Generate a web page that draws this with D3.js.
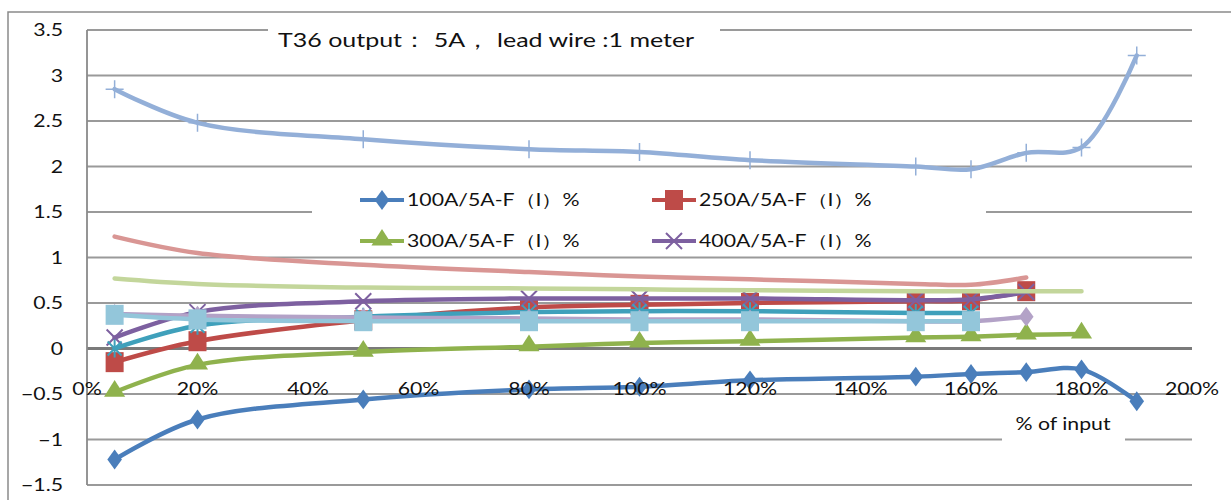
<!DOCTYPE html>
<html>
<head>
<meta charset="utf-8">
<script src="https://cdn.jsdelivr.net/npm/d3@7"></script>
<style>
  body { margin: 0; background: #fff; }
  text { font-family: Lato, "Open Sans", sans-serif; fill: #111; }
</style>
</head>
<body>
<div id="chart"></div>
<script>
// x positions (% of input)
const xPct = [5, 20, 50, 80, 100, 120, 150, 160, 170, 180, 190];
const xTicks = [0, 20, 40, 60, 80, 100, 120, 140, 160, 180, 200];
const yTicks = [-1.5, -1, -0.5, 0, 0.5, 1, 1.5, 2, 2.5, 3, 3.5];

// series values
const s100 = [-1.22, -0.78, -0.56, -0.45, -0.42, -0.35, -0.31, -0.28, -0.26, -0.23, -0.58];
const s250 = [-0.15, 0.08, 0.31, 0.45, 0.48, 0.5, 0.52, 0.53, 0.63];
const s300 = [-0.48, -0.18, -0.04, 0.02, 0.06, 0.08, 0.12, 0.13, 0.15, 0.16];
const s400 = [0.12, 0.4, 0.52, 0.55, 0.55, 0.55, 0.53, 0.54, 0.62];
const sAqua = [0.0, 0.25, 0.35, 0.4, 0.41, 0.41, 0.39, 0.39];
const sPlus = [2.85, 2.48, 2.3, 2.19, 2.16, 2.07, 2.0, 1.97, 2.15, 2.21, 3.22];
const sLightRed = [1.23, 1.05, 0.92, 0.84, 0.79, 0.76, 0.71, 0.7, 0.78];
const sLightGreen = [0.77, 0.71, 0.67, 0.66, 0.65, 0.64, 0.63, 0.63, 0.63, 0.63];
const sLightPurple = [0.38, 0.36, 0.34, 0.33, 0.32, 0.32, 0.3, 0.3, 0.35];
const sLightAqua = [0.37, 0.32, 0.3, 0.3, 0.3, 0.3, 0.3, 0.3];

const legendNames = ["100A/5A-F（I）%", "250A/5A-F（I）%", "300A/5A-F（I）%", "400A/5A-F（I）%"];
const titleText = "T36 output： 5A， lead wire :1 meter";

// drawing order: later ones on top
const series = [
    { vals: s100, color: "#4a7ebb", marker: "diamond" },
    { vals: s250, color: "#be4b48", marker: "square" },
    { vals: s300, color: "#8fb24d", marker: "triangle" },
    { vals: s400, color: "#7d60a0", marker: "x" },
    { vals: sAqua, color: "#3fa0bb", marker: "star" },
    { vals: sPlus, color: "#93afd8", marker: "plus" },
    { vals: sLightRed, color: "#d99694", marker: "none" },
    { vals: sLightGreen, color: "#c3d69b", marker: "none" },
    { vals: sLightPurple, color: "#b3a2c7", marker: "diamond" },
    { vals: sLightAqua, color: "#93c6da", marker: "square" }
];

const W = 1231, H = 500;
const SX = 1.25; // horizontal stretch of the text, as in the picture

const svg = d3.select("#chart").append("svg")
    .attr("width", W).attr("height", H);

const x = d3.scaleLinear().domain([0, 200]).range([87, 1192]);
const y = d3.scaleLinear().domain([-1.5, 3.5]).range([485, 30]);

function stext(g, str, px, py, size, anchor) {
    return g.append("text")
        .attr("transform", "translate(" + px + "," + py + ") scale(" + SX + ",1)")
        .attr("text-anchor", anchor || "start")
        .attr("font-size", size)
        .text(str);
}

// outer chart border
svg.append("path")
    .attr("d", "M8," + H + "V12H" + W)
    .attr("fill", "none").attr("stroke", "#8a8a8a").attr("stroke-width", 1.5);

// gridlines
svg.append("g").selectAll("line")
    .data(yTicks)
    .enter().append("line")
        .attr("x1", x(0)).attr("x2", x(200))
        .attr("y1", d => y(d)).attr("y2", d => y(d))
        .attr("stroke", d => d === 0 ? "#7a7a7a" : "#9a9a9a")
        .attr("stroke-width", d => d === 0 ? 3 : 1.8);

// left axis
svg.append("line")
    .attr("x1", x(0)).attr("x2", x(0)).attr("y1", y(3.5)).attr("y2", y(-1.5))
    .attr("stroke", "#8a8a8a").attr("stroke-width", 1.8);

// y tick labels
const yl = svg.append("g");
yTicks.forEach(t => stext(yl, d3.format("")(t), 63, y(t) + 6, 17, "end"));

// title and legend backgrounds hide the gridlines
svg.append("rect").attr("x", 268).attr("y", 22).attr("width", 452).attr("height", 30).attr("fill", "#fff");
svg.append("rect").attr("x", 312).attr("y", 182).attr("width", 674).attr("height", 72).attr("fill", "#fff");
svg.append("rect").attr("x", 1002).attr("y", 410).attr("width", 123).attr("height", 34).attr("fill", "#fff");

const lineGen = d3.line()
    .x((d, i) => x(xPct[i]))
    .y(d => y(d))
    .curve(d3.curveCatmullRom.alpha(0.5));

function drawMarker(g, type, color, cx, cy) {
    if (type === "diamond") {
        g.append("path").attr("d", d3.symbol(d3.symbolDiamond, 140)())
            .attr("transform", "translate(" + cx + "," + cy + ") scale(1.15,0.9)")
            .attr("fill", color);
    } else if (type === "square") {
        g.append("rect").attr("x", cx - 9).attr("y", cy - 10).attr("width", 18).attr("height", 20)
            .attr("fill", color);
    } else if (type === "triangle") {
        g.append("path").attr("d", d3.symbol(d3.symbolTriangle, 160)())
            .attr("transform", "translate(" + cx + "," + (cy - 1) + ") scale(1.1,1)")
            .attr("fill", color);
    } else if (type === "x") {
        g.append("path").attr("d", "M-8,-8L8,8M-8,8L8,-8")
            .attr("transform", "translate(" + cx + "," + cy + ")")
            .attr("stroke", color).attr("stroke-width", 2);
    } else if (type === "star") {
        g.append("path").attr("d", "M-7,-7L7,7M-7,7L7,-7M0,-9V9")
            .attr("transform", "translate(" + cx + "," + cy + ")")
            .attr("stroke", color).attr("stroke-width", 2);
    } else if (type === "plus") {
        g.append("path").attr("d", "M-9,0H9M0,-9V9")
            .attr("transform", "translate(" + cx + "," + cy + ")")
            .attr("stroke", color).attr("stroke-width", 1.5);
    }
}

const plot = svg.append("g");
series.forEach(s => {
    const g = plot.append("g");
    g.append("path")
        .datum(s.vals)
        .attr("d", lineGen)
        .attr("fill", "none")
        .attr("stroke", s.color)
        .attr("stroke-width", 4.5)
        .attr("stroke-linecap", "round")
        .attr("stroke-linejoin", "round");
    s.vals.forEach((v, i) => drawMarker(g, s.marker, s.color, x(xPct[i]), y(v)));
});

// x tick labels
const xl = svg.append("g");
xTicks.forEach(t => stext(xl, t + "%", x(t), 395, 17, "middle"));

// axis title
stext(svg, "% of input", 1063, 430, 17, "middle");

// chart title
stext(svg, titleText, 278, 47, 20, "start");

// legend
const legCols = [360, 652], legRows = [200, 241];
legendNames.forEach((name, i) => {
    const s = series[i];
    const lx = legCols[i % 2], ly = legRows[Math.floor(i / 2)];
    const g = svg.append("g");
    g.append("line").attr("x1", lx).attr("x2", lx + 44).attr("y1", ly).attr("y2", ly)
        .attr("stroke", s.color).attr("stroke-width", 4);
    drawMarker(g, s.marker, s.color, lx + 22, ly);
    stext(g, name, lx + 47, ly + 6, 17, "start");
});
</script>
</body>
</html>
